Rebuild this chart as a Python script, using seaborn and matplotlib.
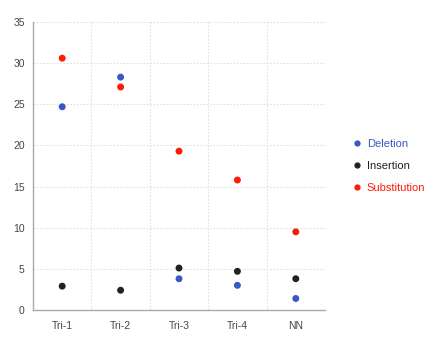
import pandas as pd
import numpy as np
import matplotlib
matplotlib.use("Agg")
import matplotlib.pyplot as plt
import seaborn as sns
from matplotlib.lines import Line2D

# Data
categories = ['Tri-1', 'Tri-2', 'Tri-3', 'Tri-4', 'NN']
deletion = [24.7, 28.3, 3.8, 3.0, 1.4]
insertion = [2.9, 2.4, 5.1, 4.7, 3.8]
substitution = [30.6, 27.1, 19.3, 15.8, 9.5]
series_names = ['Deletion', 'Insertion', 'Substitution']
colors = {'Deletion': '#3a57c4', 'Insertion': '#222222', 'Substitution': '#ff1a0a'}

# long form table for seaborn
df = pd.DataFrame({
    'cat': categories * 3,
    'value': deletion + insertion + substitution,
    'series': [s for s in series_names for _ in categories],
})

sns.set_style("white")
plt.rcParams['font.family'] = ['Liberation Sans', 'DejaVu Sans']

fig = plt.figure(figsize=(4.44, 3.55), dpi=100)
ax = fig.add_axes([33 / 444, 45 / 355, 292 / 444, 288 / 355])

sns.stripplot(data=df, x='cat', y='value', hue='series', palette=colors,
              jitter=False, size=5, linewidth=0, ax=ax, legend=False, zorder=3)

ax.set_xlim(-0.5, len(categories) - 0.5)
ax.set_ylim(0, 35)
ax.set_yticks(np.arange(0, 36, 5))
ax.set_xticks(np.arange(0.5, len(categories), 1), minor=True)
ax.grid(True, which='minor', axis='x', color='#e0e0e0', linestyle=(0, (1.5, 1.5)), linewidth=0.8)
ax.grid(True, which='major', axis='y', color='#e0e0e0', linestyle=(0, (1.5, 1.5)), linewidth=0.8)
ax.set_axisbelow(True)
ax.set_xlabel('')
ax.set_ylabel('')

for side in ['top', 'right']:
    ax.spines[side].set_visible(False)
for side in ['left', 'bottom']:
    ax.spines[side].set_color('#aaaaaa')
    ax.spines[side].set_linewidth(1)

ax.tick_params(axis='y', which='major', length=4, color='#aaaaaa', labelsize=7.5,
               labelcolor='#444444', pad=2)
ax.tick_params(axis='x', which='major', length=0, labelsize=7.5, labelcolor='#444444', pad=8)
ax.tick_params(axis='x', which='minor', length=0)

# legend with coloured text
handles = [Line2D([0], [0], marker='o', linestyle='', markersize=4.5,
                  markerfacecolor=colors[s], markeredgewidth=0) for s in series_names]
leg = fig.legend(handles, series_names, loc='center left', bbox_to_anchor=(340 / 444, 1 - 166 / 355),
                 frameon=False, fontsize=8, handletextpad=0.3, labelspacing=1.05,
                 handlelength=1.2)
for txt, s in zip(leg.get_texts(), series_names):
    txt.set_color(colors[s])

fig.savefig('out.png', dpi=100)
